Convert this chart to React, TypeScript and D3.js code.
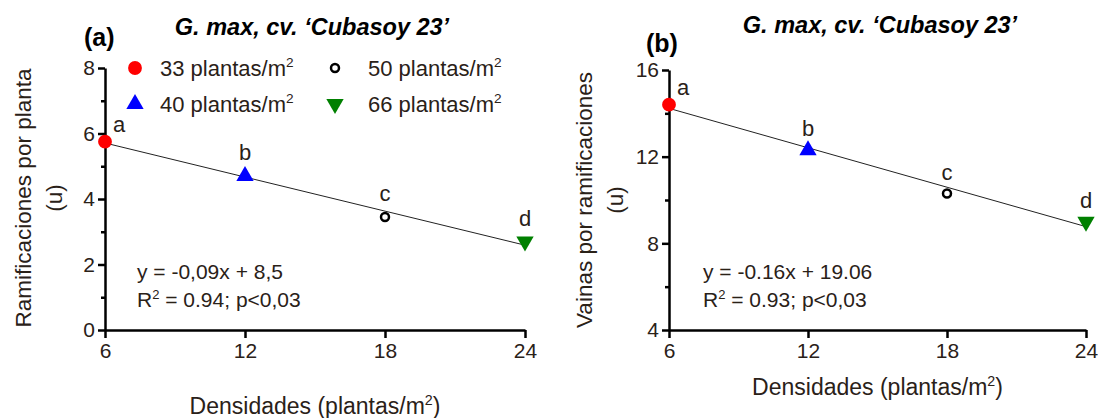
import React, { useRef, useEffect } from 'react'
import * as d3 from 'd3'

// densities on the x axis
const densities = [6, 12, 18, 24]
const xTicks = [6, 12, 18, 24]
const groups = ['33', '40', '50', '66']
const letters = ['a', 'b', 'c', 'd']
const colors = ['#ff0000', '#0000ff', '#000000', '#008000']
const shapes = ['circle', 'up', 'open', 'down']

// panel (a): ramificaciones por planta
const ramificaciones = [5.75, 4.7, 3.45, 2.7]
const ramTicks = [0, 2, 4, 6, 8]
const ramMinor = [1, 3, 5, 7]

// panel (b): vainas por ramificaciones
const vainas = [14.4, 12.3, 10.3, 9.0]
const vainTicks = [4, 8, 12, 16]
const vainMinor = [6, 10, 14]

const FONT = '"Liberation Sans", Arial, sans-serif'
const TXT = '#2a2118'

const fit = (xs, ys) => {
  const mx = d3.mean(xs), my = d3.mean(ys)
  const sxy = d3.sum(xs, (x, i) => (x - mx) * (ys[i] - my))
  const sxx = d3.sum(xs, x => (x - mx) ** 2)
  const b = sxy / sxx
  return { b, a: my - b * mx }
}

const symbolPath = shape => {
  if (shape === 'circle') return d3.symbol(d3.symbolCircle, 150)()
  if (shape === 'open') return d3.symbol(d3.symbolCircle, 50)()
  return d3.symbol(d3.symbolTriangle, 130)()
}

const drawMarker = (g, shape, color, x, y) => {
  const p = g
    .append('path')
    .attr('d', symbolPath(shape))
    .attr('transform', `translate(${x},${y})${shape === 'down' ? ' rotate(180)' : ''}`)
  if (shape === 'open') {
    p.attr('fill', 'white').attr('stroke', '#000').attr('stroke-width', 2.5)
  } else {
    p.attr('fill', color)
  }
}

const supText = (g, x, y, base, sup, size, anchor = 'start') => {
  const t = g
    .append('text')
    .attr('x', x)
    .attr('y', y)
    .attr('font-size', size)
    .attr('text-anchor', anchor)
    .attr('fill', TXT)
  t.append('tspan').text(base)
  t.append('tspan').text(sup).attr('font-size', size * 0.62).attr('dy', -size * 0.4)
  return t
}

export default function App() {
  const ref = useRef(null)

  useEffect(() => {
    const svg = d3.select(ref.current)
    svg.selectAll('*').remove()
    svg.attr('font-family', FONT)

    const panels = [
      {
        tag: '(a)', tagX: 84, tagY: 46, titleX: 312, titleY: 35,
        left: 105, right: 525, top: 68, bottom: 330,
        domain: [0, 8], ticks: ramTicks, minor: ramMinor, values: ramificaciones,
        yTitle: ['Ramificaciones por planta', '(u)'], yTitleX: 23, yTitleY: 198,
        xTitleY: 414,
        eq: 'y = -0,09x + 8,5', r2: ' = 0.94; p<0,03', eqX: 137,
        letterDy: -16, legend: true,
      },
      {
        tag: '(b)', tagX: 646, tagY: 52, titleX: 880, titleY: 33,
        left: 669, right: 1086, top: 70, bottom: 330,
        domain: [4, 16], ticks: vainTicks, minor: vainMinor, values: vainas,
        yTitle: ['Vainas por ramificaciones', '(u)'], yTitleX: 584, yTitleY: 200,
        xTitleY: 395,
        eq: 'y = -0.16x + 19.06', r2: ' = 0.93; p<0,03', eqX: 703,
        letterDy: -14, legend: false,
      },
    ]

    panels.forEach(p => {
      const x = d3.scaleLinear().domain([6, 24]).range([p.left, p.right])
      const y = d3.scaleLinear().domain(p.domain).range([p.bottom, p.top])
      const g = svg.append('g')

      // titles
      g.append('text')
        .attr('x', p.tagX).attr('y', p.tagY)
        .attr('font-size', 25).attr('font-weight', 'bold')
        .attr('fill', '#000')
        .text(p.tag)
      g.append('text')
        .attr('x', p.titleX).attr('y', p.titleY)
        .attr('font-size', 23.5).attr('font-weight', 'bold').attr('font-style', 'italic')
        .attr('text-anchor', 'middle').attr('fill', '#000')
        .text('G. max, cv. \u2018Cubasoy 23\u2019')

      // minor y ticks
      g.append('g')
        .attr('transform', `translate(${p.left},0)`)
        .call(d3.axisLeft(y).tickValues(p.minor).tickSize(4).tickFormat(''))
        .call(a => a.select('.domain').remove())
        .call(a => a.selectAll('line').attr('stroke-width', 2.5))

      const yAxis = g.append('g')
        .attr('transform', `translate(${p.left},0)`)
        .call(d3.axisLeft(y).tickValues(p.ticks).tickSize(7).tickSizeOuter(0).tickPadding(3))
      yAxis.select('.domain').attr('stroke-width', 2.5)
      yAxis.selectAll('line').attr('stroke-width', 2.5)
      yAxis.selectAll('text').attr('font-size', 21).attr('fill', TXT).attr('font-family', FONT)

      const xAxis = g.append('g')
        .attr('transform', `translate(0,${p.bottom})`)
        .call(d3.axisBottom(x).tickValues(xTicks).tickSize(8).tickSizeOuter(0).tickPadding(5))
      xAxis.select('.domain').attr('stroke-width', 2.5)
      xAxis.selectAll('line').attr('stroke-width', 2.5)
      xAxis.selectAll('text').attr('font-size', 21).attr('fill', TXT).attr('font-family', FONT)

      // axis titles
      p.yTitle.forEach((t, i) => {
        g.append('text')
          .attr('transform', `translate(${p.yTitleX + i * 31},${p.yTitleY}) rotate(-90)`)
          .attr('text-anchor', 'middle').attr('dy', '0.35em')
          .attr('font-size', 22.5).attr('fill', TXT)
          .text(t)
      })
      supText(g, (p.left + p.right) / 2, p.xTitleY, 'Densidades (plantas/m', '2', 23, 'middle')
        .append('tspan').attr('font-size', 23).attr('dy', 23 * 0.4).text(')')

      // regression line
      const { a, b } = fit(densities, p.values)
      g.append('path')
        .attr('d', d3.line()([[x(6), y(a + b * 6)], [x(24), y(a + b * 24)]]))
        .attr('stroke', '#222').attr('stroke-width', 1).attr('fill', 'none')

      // points
      p.values.forEach((v, i) => {
        drawMarker(g, shapes[i], colors[i], x(densities[i]), y(v))
        const first = i === 0
        g.append('text')
          .attr('x', x(densities[i]) + (first ? 14 : 0))
          .attr('y', y(v) + (first ? -10 : p.letterDy))
          .attr('text-anchor', 'middle')
          .attr('font-size', 22).attr('fill', TXT)
          .text(letters[i])
      })

      // equation
      g.append('text')
        .attr('x', p.eqX).attr('y', 279)
        .attr('font-size', 21).attr('fill', TXT)
        .text(p.eq)
      supText(g, p.eqX, 307, 'R', '2', 21)
        .append('tspan').attr('font-size', 21).attr('dy', 21 * 0.4).text(p.r2)

      if (p.legend) {
        const lx = [135, 335]
        const tx = [160, 368]
        const ly = [68, 104]
        const order = [[0, 0], [1, 0], [0, 1], [1, 1]] // [row, col] for groups
        groups.forEach((gr, i) => {
          const [row, col] = order[i]
          drawMarker(g, shapes[i], colors[i], lx[col], ly[row])
          supText(g, tx[col], ly[row] + 8, `${gr} plantas/m`, '2', 22)
        })
      }
    })
  }, [])

  return <svg ref={ref} width={1098} height={418} style={{ display: 'block', position: 'absolute', left: 0, top: 0, background: '#fff' }} />
}
